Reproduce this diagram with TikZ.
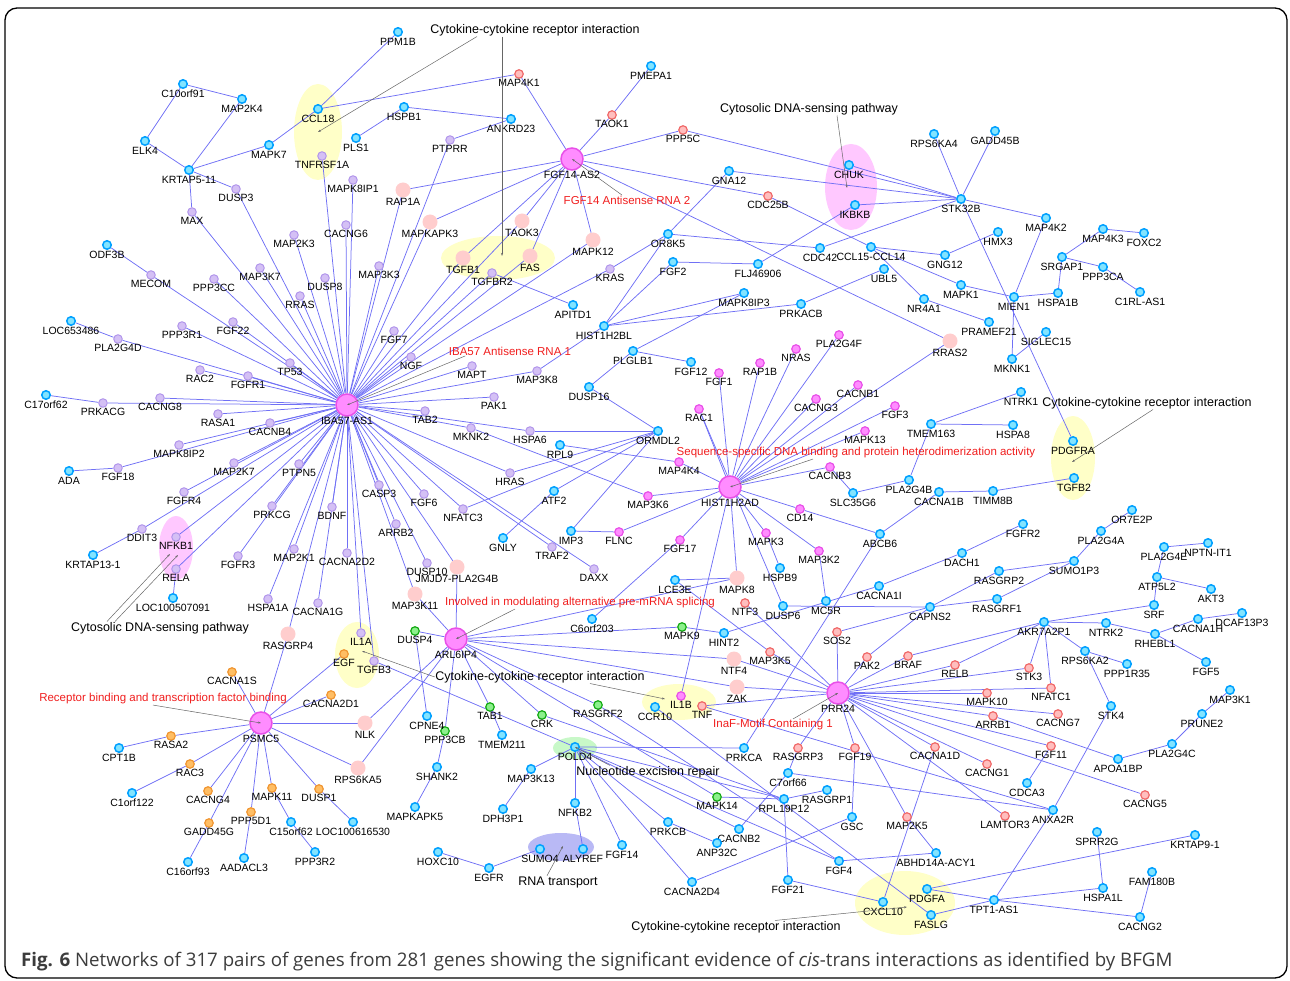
\documentclass[tikz,border=0pt]{standalone}
\usepackage{fontspec}
\setmainfont{Liberation Sans}
\newfontfamily\capfont{Open Sans}
\usetikzlibrary{arrows.meta,backgrounds}
\definecolor{linkBlue}{RGB}{112,112,245}
\definecolor{cyFill}{RGB}{130,228,255}
\definecolor{cyLine}{RGB}{0,160,255}
\definecolor{puFill}{RGB}{212,192,245}
\definecolor{puLine}{RGB}{178,150,235}
\definecolor{pkFill}{RGB}{255,205,205}
\definecolor{rdFill}{RGB}{255,190,190}
\definecolor{rdLine}{RGB}{240,105,105}
\definecolor{mgFill}{RGB}{255,140,255}
\definecolor{mgLine}{RGB}{232,80,232}
\definecolor{grFill}{RGB}{140,240,140}
\definecolor{grLine}{RGB}{20,170,20}
\definecolor{ogFill}{RGB}{255,190,100}
\definecolor{ogLine}{RGB}{240,150,50}
\definecolor{hlYellow}{RGB}{255,255,200}
\definecolor{hlPink}{RGB}{255,200,255}
\definecolor{hlGreen}{RGB}{200,248,200}
\definecolor{hlBlue}{RGB}{185,185,245}
\definecolor{noteRed}{RGB}{240,30,30}
\definecolor{capGray}{RGB}{60,60,60}

\begin{document}
\begin{tikzpicture}[
  x=1pt, y=-1pt,
  %% gene label under each circle
  lbl/.style={font=\fontsize{10.5}{11}\selectfont, inner sep=0.6pt},
  gnode/.style={circle, inner sep=0pt, minimum size=8.5pt, line width=1.5pt,
    label distance=1.2pt, label={[lbl]below:#1}},
  cyg/.style={gnode=#1, fill=cyFill, draw=cyLine},
  pug/.style={gnode=#1, line width=1pt, fill=puFill, draw=puLine},
  pkg/.style={gnode=#1, minimum size=15pt, line width=0pt, fill=pkFill, draw=none},
  rdg/.style={gnode=#1, line width=1.2pt, fill=rdFill, draw=rdLine},
  mgg/.style={gnode=#1, line width=1.2pt, fill=mgFill, draw=mgLine},
  grg/.style={gnode=#1, line width=1.2pt, fill=grFill, draw=grLine},
  ogg/.style={gnode=#1, line width=1.2pt, fill=ogFill, draw=ogLine},
  hub/.style={gnode=#1, minimum size=22pt, fill=mgFill, draw=mgLine},
  link/.style={draw=linkBlue, line width=0.75pt},
  %% pathway / annotation texts
  annot/.style={font=\fontsize{12.5}{14}\selectfont, inner sep=0.5pt},
  redannot/.style={font=\fontsize{11.5}{13}\selectfont, text=noteRed, inner sep=0.5pt},
  note/.style={draw=gray!80!black, line width=0.5pt, -{Stealth[length=3pt,width=2pt]}}
]
\useasboundingbox (0,0) rectangle (1290,981);

%% ---- Highlight groups ----
\begin{scope}[on background layer]
\fill[hlYellow] (318,132) ellipse [x radius=24, y radius=48];
\fill[hlYellow] (498,258) ellipse [x radius=57, y radius=22];
\fill[hlPink]   (851,187) ellipse [x radius=26, y radius=43];
\fill[hlYellow] (1073,458) ellipse [x radius=22, y radius=42];
\fill[hlPink]   (176,548) ellipse [x radius=17, y radius=32];
\fill[hlYellow] (357,655) ellipse [x radius=22, y radius=33];
\fill[hlYellow] (679,702) ellipse [x radius=37, y radius=18];
\fill[hlGreen]  (575,748) ellipse [x radius=22, y radius=11];
\fill[hlBlue]   (561,847) ellipse [x radius=33, y radius=14];
\fill[hlYellow] (905,903) ellipse [x radius=50, y radius=32];
\end{scope}
\coordinate (ccl18Grp) at (318,132);
\coordinate (tgfGrp)   at (502,256);
\coordinate (chukGrp)  at (847,188);
\coordinate (pdgfGrp)  at (1072,462);
\coordinate (nfkbA)    at (170,554);
\coordinate (nfkbB)    at (178,555);
\coordinate (il1aGrp)  at (362,651);
\coordinate (il1bGrp)  at (665,699);
\coordinate (sumoGrp)  at (563,846);
\coordinate (cxclGrp)  at (907,907);

%% ---- Hubs ----
\node[hub=FGF14-AS2] (FGF14-AS2) at (572,159) {};
\node[hub=IBA57-AS1] (IBA57-AS1) at (347,405) {};
\node[hub=HIST1H2AD] (HIST1H2AD) at (730,487) {};
\node[hub=ARL6IP4]   (ARL6IP4)   at (456,639) {};
\node[hub=PRR24]     (PRR24)     at (838,693) {};
\node[hub=PSMC5]     (PSMC5)     at (261,723) {};

%% ---- Shared partners ----
\node[pkg=RAP1A]         (RAP1A)         at (403,190) {};
\node[pkg=MAPKAPK3]      (MAPKAPK3)      at (430,222) {};
\node[pkg=TAOK3]         (TAOK3)         at (522,221) {};
\node[pkg=MAPK12]        (MAPK12)        at (593,240) {};
\node[pkg=TGFB1]         (TGFB1)         at (463,258) {};
\node[pkg=FAS]           (FAS)           at (530,256) {};
\node[pkg=RRAS2]         (RRAS2)         at (950,341) {};
\node[pkg=RASGRP4]       (RASGRP4)       at (288,634) {};
\node[pkg=JMJD7-PLA2G4B] (JMJD7-PLA2G4B) at (457,567) {};
\node[pkg=MAP3K11]       (MAP3K11)       at (415,594) {};
\node[pkg=MAPK8]         (MAPK8)         at (737,578) {};
\node[pkg=NTF4]          (NTF4)          at (734,659) {};
\node[pkg=ZAK]           (ZAK)           at (737,687) {};
\node[pkg=NLK]           (NLK)           at (365,723) {};
\node[pkg=RPS6KA5]       (RPS6KA5)       at (358,768) {};

%% ---- IBA57-AS1 partners ----
\node[pug=TNFRSF1A] (TNFRSF1A) at (322,156) {};
\node[pug=DUSP3]    (DUSP3)    at (236,189) {};
\node[pug=MAX]      (MAX)      at (192,212) {};
\node[pug=MAP2K3]   (MAP2K3)   at (294,235) {};
\node[pug=MECOM]    (MECOM)    at (151,275) {};
\node[pug=PPP3CC]   (PPP3CC)   at (214,279) {};
\node[pug=MAP3K7]   (MAP3K7)   at (260,268) {};
\node[pug=RRAS]     (RRAS)     at (300,296) {};
\node[pug=DUSP8]    (DUSP8)    at (325,278) {};
\node[pug=PPP3R1]   (PPP3R1)   at (182,326) {};
\node[pug=FGF22]    (FGF22)    at (233,322) {};
\node[pug=PTPRR]    (PTPRR)    at (450,140) {};
\node[pug=MAPK8IP1] (MAPK8IP1) at (353,180) {};
\node[pug=CACNG6]   (CACNG6)   at (346,225) {};
\node[pug=TGFBR2]   (TGFBR2)   at (492,273) {};
\node[pug=MAP3K3]   (MAP3K3)   at (379,266) {};
\node[pug=KRAS]     (KRAS)     at (610,269) {};
\node[pug=FGF7]     (FGF7)     at (394,331) {};
\node[pug=PLA2G4D]  (PLA2G4D)  at (118,339) {};
\node[pug=RAC2]     (RAC2)     at (200,370) {};
\node[pug=FGFR1]    (FGFR1)    at (248,376) {};
\node[pug=TP53]     (TP53)     at (290,363) {};
\node[pug=PRKACG]   (PRKACG)   at (103,403) {};
\node[pug=CACNG8]   (CACNG8)   at (160,398) {};
\node[pug=RASA1]    (RASA1)    at (218,414) {};
\node[pug=CACNB4]   (CACNB4)   at (270,423) {};
\node[pug=MAPK8IP2] (MAPK8IP2) at (179,445) {};
\node[pug=FGF18]    (FGF18)    at (118,468) {};
\node[pug=MAP2K7]   (MAP2K7)   at (234,463) {};
\node[pug=PTPN5]    (PTPN5)    at (299,464) {};
\node[pug=FGFR4]    (FGFR4)    at (184,492) {};
\node[pug=PRKCG]    (PRKCG)    at (272,506) {};
\node[pug=BDNF]     (BDNF)     at (332,507) {};
\node[pug=DDIT3]    (DDIT3)    at (142,529) {};
\node[pug=NFKB1]    (NFKB1)    at (176,537) {};
\node[pug=MAP2K1]   (MAP2K1)   at (294,549) {};
\node[pug=FGFR3]    (FGFR3)    at (238,556) {};
\node[pug=RELA]     (RELA)     at (176,569) {};
\node[pug=HSPA1A]   (HSPA1A)   at (268,599) {};
\node[pug=CACNA1G]  (CACNA1G)  at (318,603) {};
\node[pug=NGF]      (NGF)      at (411,357) {};
\node[pug=MAPT]     (MAPT)     at (472,366) {};
\node[pug=MAP3K8]   (MAP3K8)   at (537,371) {};
\node[pug=PAK1]     (PAK1)     at (494,397) {};
\node[pug=TAB2]     (TAB2)     at (425,411) {};
\node[pug=MKNK2]    (MKNK2)    at (471,428) {};
\node[pug=HSPA6]    (HSPA6)    at (530,431) {};
\node[pug=HRAS]     (HRAS)     at (510,473) {};
\node[pug=CASP3]    (CASP3)    at (379,485) {};
\node[pug=FGF6]     (FGF6)     at (424,494) {};
\node[pug=NFATC3]   (NFATC3)   at (463,509) {};
\node[pug=ARRB2]    (ARRB2)    at (396,524) {};
\node[pug=CACNA2D2] (CACNA2D2) at (347,553) {};
\node[pug=TRAF2]    (TRAF2)    at (552,547) {};
\node[pug=DUSP10]   (DUSP10)   at (427,563) {};
\node[pug=DAXX]     (DAXX)     at (594,569) {};
\node[pug=IL1A]     (IL1A)     at (361,633) {};
\node[pug=TGFB3]    (TGFB3)    at (374,661) {};

%% ---- FGF14-AS2 and PRR24 partners ----
\node[rdg=MAP4K1]  (MAP4K1)  at (519,74) {};
\node[rdg=TAOK1]   (TAOK1)   at (612,115) {};
\node[rdg=PPP5C]   (PPP5C)   at (683,130) {};
\node[rdg=CDC25B]  (CDC25B)  at (768,196) {};
\node[rdg=NTF3]    (NTF3)    at (745,603) {};
\node[rdg=SOS2]    (SOS2)    at (837,632) {};
\node[rdg=MAP3K5]  (MAP3K5)  at (770,652) {};
\node[rdg=PAK2]    (PAK2)    at (867,657) {};
\node[rdg=BRAF]    (BRAF)    at (908,656) {};
\node[rdg=RELB]    (RELB)    at (955,665) {};
\node[rdg=STK3]    (STK3)    at (1029,668) {};
\node[rdg=NFATC1]  (NFATC1)  at (1051,688) {};
\node[rdg=MAPK10]  (MAPK10)  at (987,693) {};
\node[rdg=CACNG7]  (CACNG7)  at (1058,714) {};
\node[rdg=ARRB1]   (ARRB1)   at (993,716) {};
\node[rdg=FGF11]   (FGF11)   at (1051,746) {};
\node[rdg=CACNG1]  (CACNG1)  at (987,764) {};
\node[rdg=CACNG5]  (CACNG5)  at (1145,795) {};
\node[rdg=LAMTOR3] (LAMTOR3) at (1005,816) {};
\node[rdg=TNF]     (TNF)     at (702,706) {};
\node[rdg=RASGRP3] (RASGRP3) at (798,748) {};
\node[rdg=FGF19]   (FGF19)   at (855,748) {};
\node[rdg=CACNA1D] (CACNA1D) at (935,747) {};
\node[rdg=MAP2K5]  (MAP2K5)  at (907,817) {};

%% ---- HIST1H2AD partners ----
\node[mgg=PLA2G4F] (PLA2G4F) at (839,335) {};
\node[mgg=NRAS]    (NRAS)    at (796,349) {};
\node[mgg=RAP1B]   (RAP1B)   at (760,363) {};
\node[mgg=FGF1]    (FGF1)    at (719,373) {};
\node[mgg=CACNB1]  (CACNB1)  at (858,385) {};
\node[mgg=CACNG3]  (CACNG3)  at (816,399) {};
\node[mgg=FGF3]    (FGF3)    at (895,406) {};
\node[mgg=RAC1]    (RAC1)    at (699,409) {};
\node[mgg=MAPK13]  (MAPK13)  at (865,431) {};
\node[mgg=MAP4K4]  (MAP4K4)  at (679,462) {};
\node[mgg=CACNB3]  (CACNB3)  at (830,467) {};
\node[mgg=MAP3K6]  (MAP3K6)  at (648,496) {};
\node[mgg=CD14]    (CD14)    at (800,509) {};
\node[mgg=FGF17]   (FGF17)   at (680,540) {};
\node[mgg=MAPK3]   (MAPK3)   at (766,533) {};
\node[mgg=MAP3K2]  (MAP3K2)  at (819,551) {};
\node[mgg=FLNC]    (FLNC)    at (619,532) {};
\node[mgg=IL1B]    (IL1B)    at (681,696) {};

%% ---- ARL6IP4 partners ----
\node[grg=DUSP4]   (DUSP4)   at (415,631) {};
\node[grg=MAPK9]   (MAPK9)   at (682,627) {};
\node[grg=TAB1]    (TAB1)    at (490,707) {};
\node[grg=CRK]     (CRK)     at (542,715) {};
\node[grg=RASGRF2] (RASGRF2) at (598,705) {};
\node[grg=PPP3CB]  (PPP3CB)  at (445,731) {};
\node[grg=MAPK14]  (MAPK14)  at (717,797) {};

%% ---- PSMC5 partners ----
\node[ogg=EGF]      (EGF)      at (344,654) {};
\node[ogg=CACNA1S]  (CACNA1S)  at (232,672) {};
\node[ogg=CACNA2D1] (CACNA2D1) at (331,695) {};
\node[ogg=RASA2]    (RASA2)    at (171,736) {};
\node[ogg=RAC3]     (RAC3)     at (190,764) {};
\node[ogg=CACNG4]   (CACNG4)   at (208,791) {};
\node[ogg=MAPK11]   (MAPK11)   at (272,788) {};
\node[ogg=DUSP1]    (DUSP1)    at (319,789) {};
\node[ogg=PPP5D1]   (PPP5D1)   at (251,812) {};
\node[ogg=GADD45G]  (GADD45G)  at (209,823) {};

%% ---- Other genes ----
\node[cyg=C10orf91]     (C10orf91)     at (183,84) {};
\node[cyg=MAP2K4]       (MAP2K4)       at (242,99) {};
\node[cyg=ELK4]         (ELK4)         at (145,141) {};
\node[cyg=KRTAP5-11]    (KRTAP5-11)    at (189,170) {};
\node[cyg=MAPK7]        (MAPK7)        at (269,145) {};
\node[cyg=CCL18]        (CCL18)        at (318,109) {};
\node[cyg=ODF3B]        (ODF3B)        at (107,245) {};
\node[cyg=LOC653486]    (LOC653486)    at (71,321) {};
\node[cyg=C17orf62]     (C17orf62)     at (46,395) {};
\node[cyg=ADA]          (ADA)          at (69,471) {};
\node[cyg=KRTAP13-1]    (KRTAP13-1)    at (93,555) {};
\node[cyg=LOC100507091] (LOC100507091) at (173,598) {};
\node[cyg=PPM1B]        (PPM1B)        at (398,32) {};
\node[cyg=HSPB1]        (HSPB1)        at (404,107) {};
\node[cyg=ANKRD23]      (ANKRD23)      at (511,119) {};
\node[cyg=PLS1]         (PLS1)         at (356,138) {};
\node[cyg=PMEPA1]       (PMEPA1)       at (651,66) {};
\node[cyg=APITD1]       (APITD1)       at (573,305) {};
\node[cyg=HIST1H2BL]    (HIST1H2BL)    at (604,326) {};
\node[cyg=RPS6KA4]      (RPS6KA4)      at (934,134) {};
\node[cyg=CHUK]         (CHUK)         at (849,165) {};
\node[cyg=GNA12]        (GNA12)        at (729,171) {};
\node[cyg=IKBKB]        (IKBKB)        at (855,205) {};
\node[cyg=STK32B]       (STK32B)       at (961,199) {};
\node[cyg=OR8K5]        (OR8K5)        at (668,234) {};
\node[cyg=CDC42]        (CDC42)        at (820,248) {};
\node[cyg=CCL15-CCL14]  (CCL15-CCL14)  at (871,247) {};
\node[cyg=GNG12]        (GNG12)        at (945,255) {};
\node[cyg=FGF2]         (FGF2)         at (673,262) {};
\node[cyg=FLJ46906]     (FLJ46906)     at (758,264) {};
\node[cyg=UBL5]         (UBL5)         at (884,269) {};
\node[cyg=MAPK1]        (MAPK1)        at (961,285) {};
\node[cyg=MAPK8IP3]     (MAPK8IP3)     at (744,293) {};
\node[cyg=PRKACB]       (PRKACB)       at (801,304) {};
\node[cyg=NR4A1]        (NR4A1)        at (924,299) {};
\node[cyg=GADD45B]      (GADD45B)      at (995,131) {};
\node[cyg=MAP4K2]       (MAP4K2)       at (1046,218) {};
\node[cyg=HMX3]         (HMX3)         at (998,232) {};
\node[cyg=MAP4K3]       (MAP4K3)       at (1103,229) {};
\node[cyg=FOXC2]        (FOXC2)        at (1144,233) {};
\node[cyg=SRGAP1]       (SRGAP1)       at (1062,257) {};
\node[cyg=PPP3CA]       (PPP3CA)       at (1103,267) {};
\node[cyg=MIEN1]        (MIEN1)        at (1014,297) {};
\node[cyg=HSPA1B]       (HSPA1B)       at (1058,293) {};
\node[cyg=C1RL-AS1]     (C1RL-AS1)     at (1140,292) {};
\node[cyg=PRAMEF21]     (PRAMEF21)     at (989,322) {};
\node[cyg=SIGLEC15]     (SIGLEC15)     at (1046,332) {};
\node[cyg=MKNK1]        (MKNK1)        at (1012,359) {};
\node[cyg=NTRK1]        (NTRK1)        at (1021,392) {};
\node[cyg=HSPA8]        (HSPA8)        at (1013,425) {};
\node[cyg=PDGFRA]       (PDGFRA)       at (1073,441) {};
\node[cyg=TGFB2]        (TGFB2)        at (1074,478) {};
\node[cyg=TIMM8B]       (TIMM8B)       at (993,491) {};
\node[cyg=OR7E2P]       (OR7E2P)       at (1132,510) {};
\node[cyg=FGFR2]        (FGFR2)        at (1023,524) {};
\node[cyg=PLA2G4A]      (PLA2G4A)      at (1101,531) {};
\node[cyg=PLA2G4E]      (PLA2G4E)      at (1164,547) {};
\node[cyg=NPTN-IT1]     (NPTN-IT1)     at (1208,543) {};
\node[cyg=SUMO1P3]      (SUMO1P3)      at (1074,561) {};
\node[cyg=DACH1]        (DACH1)        at (962,553) {};
\node[cyg=RASGRP2]      (RASGRP2)      at (999,571) {};
\node[cyg=ATP5L2]       (ATP5L2)       at (1157,577) {};
\node[cyg=AKT3]         (AKT3)         at (1211,589) {};
\node[cyg=RASGRF1]      (RASGRF1)      at (997,599) {};
\node[cyg=SRF]          (SRF)          at (1154,605) {};
\node[cyg=DCAF13P3]     (DCAF13P3)     at (1242,613) {};
\node[cyg=CACNA1H]      (CACNA1H)      at (1198,619) {};
\node[cyg=AKR7A2P1]     (AKR7A2P1)     at (1044,622) {};
\node[cyg=NTRK2]        (NTRK2)        at (1106,623) {};
\node[cyg=RHEBL1]       (RHEBL1)       at (1155,634) {};
\node[cyg=RPS6KA2]      (RPS6KA2)      at (1085,651) {};
\node[cyg=PPP1R35]      (PPP1R35)      at (1127,664) {};
\node[cyg=FGF5]         (FGF5)         at (1206,662) {};
\node[cyg=MAP3K1]       (MAP3K1)       at (1230,690) {};
\node[cyg=STK4]         (STK4)         at (1111,706) {};
\node[cyg=PRUNE2]       (PRUNE2)       at (1202,714) {};
\node[cyg=PLA2G4C]      (PLA2G4C)      at (1172,744) {};
\node[cyg=APOA1BP]      (APOA1BP)      at (1118,759) {};
\node[cyg=CDCA3]        (CDCA3)        at (1027,783) {};
\node[cyg=ANXA2R]       (ANXA2R)       at (1053,810) {};
\node[cyg=SPRR2G]       (SPRR2G)       at (1097,832) {};
\node[cyg=KRTAP9-1]     (KRTAP9-1)     at (1195,835) {};
\node[cyg=FAM180B]      (FAM180B)      at (1152,872) {};
\node[cyg=HSPA1L]       (HSPA1L)       at (1103,888) {};
\node[cyg=TPT1-AS1]     (TPT1-AS1)     at (994,900) {};
\node[cyg=CACNG2]       (CACNG2)       at (1140,917) {};
\node[cyg=PLGLB1]       (PLGLB1)       at (633,351) {};
\node[cyg=DUSP16]       (DUSP16)       at (589,387) {};
\node[cyg=FGF12]        (FGF12)        at (691,362) {};
\node[cyg=ORMDL2]       (ORMDL2)       at (658,431) {};
\node[cyg=RPL9]         (RPL9)         at (560,445) {};
\node[cyg=ATF2]         (ATF2)         at (554,491) {};
\node[cyg=GNLY]         (GNLY)         at (503,538) {};
\node[cyg=IMP3]         (IMP3)         at (571,531) {};
\node[cyg=C6orf203]     (C6orf203)     at (592,619) {};
\node[cyg=TMEM163]      (TMEM163)      at (931,424) {};
\node[cyg=SLC35G6]      (SLC35G6)      at (853,493) {};
\node[cyg=PLA2G4B]      (PLA2G4B)      at (909,480) {};
\node[cyg=CACNA1B]      (CACNA1B)      at (939,492) {};
\node[cyg=ABCB6]        (ABCB6)        at (880,534) {};
\node[cyg=HSPB9]        (HSPB9)        at (780,568) {};
\node[cyg=LCE3E]        (LCE3E)        at (675,580) {};
\node[cyg=CACNA1I]      (CACNA1I)      at (879,586) {};
\node[cyg=DUSP6]        (DUSP6)        at (783,606) {};
\node[cyg=MC5R]         (MC5R)         at (826,601) {};
\node[cyg=CAPNS2]       (CAPNS2)       at (930,607) {};
\node[cyg=HINT2]        (HINT2)        at (724,633) {};
\node[cyg=CCR10]        (CCR10)        at (655,707) {};
\node[cyg=PRKCA]        (PRKCA)        at (744,748) {};
\node[cyg=C7orf66]      (C7orf66)      at (788,773) {};
\node[cyg=RPL19P12]     (RPL19P12)     at (784,799) {};
\node[cyg=RASGRP1]      (RASGRP1)      at (827,790) {};
\node[cyg=GSC]          (GSC)          at (852,817) {};
\node[cyg=PRKCB]        (PRKCB)        at (668,822) {};
\node[cyg=CACNB2]       (CACNB2)       at (739,829) {};
\node[cyg=ANP32C]       (ANP32C)       at (717,843) {};
\node[cyg=ABHD14A-ACY1] (ABHD14A-ACY1) at (936,853) {};
\node[cyg=FGF4]         (FGF4)         at (839,861) {};
\node[cyg=CACNA2D4]     (CACNA2D4)     at (692,882) {};
\node[cyg=FGF21]        (FGF21)        at (788,880) {};
\node[cyg=PDGFA]        (PDGFA)        at (927,889) {};
\node[cyg=CXCL10]       (CXCL10)       at (883,902) {};
\node[cyg=FASLG]        (FASLG)        at (931,915) {};
\node[cyg=CPNE4]        (CPNE4)        at (427,716) {};
\node[cyg=TMEM211]      (TMEM211)      at (502,735) {};
\node[cyg=POLD4]        (POLD4)        at (575,747) {};
\node[cyg=SHANK2]       (SHANK2)       at (437,767) {};
\node[cyg=MAP3K13]      (MAP3K13)      at (531,769) {};
\node[cyg=NFKB2]        (NFKB2)        at (575,803) {};
\node[cyg=LOC100616530] (LOC100616530) at (353,822) {};
\node[cyg=MAPKAPK5]     (MAPKAPK5)     at (415,807) {};
\node[cyg=DPH3P1]       (DPH3P1)       at (503,809) {};
\node[cyg=FGF14]        (FGF14)        at (622,845) {};
\node[cyg=HOXC10]       (HOXC10)       at (438,852) {};
\node[cyg=SUMO4]        (SUMO4)        at (540,849) {};
\node[cyg=ALYREF]       (ALYREF)       at (583,849) {};
\node[cyg=EGFR]         (EGFR)         at (489,868) {};
\node[cyg=CPT1B]        (CPT1B)        at (119,748) {};
\node[cyg=C1orf122]     (C1orf122)     at (132,793) {};
\node[cyg=C15orf62]     (C15orf62)     at (291,822) {};
\node[cyg=C16orf93]     (C16orf93)     at (188,862) {};
\node[cyg=AADACL3]      (AADACL3)      at (244,858) {};
\node[cyg=PPP3R2]       (PPP3R2)       at (315,852) {};

%% ---- Hub links ----
\begin{scope}[on background layer]
\path[link] (IBA57-AS1) edge (TNFRSF1A) edge (MAPK8IP1) edge (CACNG6) edge (DUSP3)
  edge (MAX) edge (MAP2K3) edge (MECOM) edge (PPP3CC) edge (MAP3K7) edge (RRAS)
  edge (DUSP8) edge (PPP3R1) edge (FGF22) edge (MAP3K3) edge (FGF7) edge (NGF)
  edge (MAPT) edge (MAP3K8) edge (PAK1) edge (TAB2) edge (MKNK2) edge (HSPA6)
  edge (HRAS) edge (CASP3) edge (FGF6) edge (NFATC3) edge (ARRB2) edge (DUSP10)
  edge (TRAF2) edge (DAXX) edge (CACNA2D2) edge (BDNF) edge (MAP2K1) edge (CACNA1G)
  edge (HSPA1A) edge (PRKCG) edge (FGFR3) edge (PTPN5) edge (MAP2K7) edge (FGFR4)
  edge (DDIT3) edge (NFKB1) edge (RELA) edge (MAPK8IP2) edge (FGF18) edge (CACNB4)
  edge (RASA1) edge (CACNG8) edge (PRKACG) edge (RAC2) edge (FGFR1) edge (TP53)
  edge (PLA2G4D) edge (TGFBR2) edge (PTPRR) edge (KRAS) edge (IL1A) edge (TGFB3)
  edge (RAP1A) edge (MAPKAPK3) edge (TAOK3) edge (TGFB1) edge (FAS) edge (MAPK12)
  edge (RASGRP4) edge (MAP3K11) edge (JMJD7-PLA2G4B);
\path[link] (FGF14-AS2) edge (MAP4K1) edge (TAOK1) edge (PPP5C) edge (CDC25B)
  edge (RRAS2) edge (RAP1A) edge (MAPKAPK3) edge (TAOK3) edge (TGFB1) edge (FAS)
  edge (MAPK12);
\path[link] (HIST1H2AD) edge (PLA2G4F) edge (NRAS) edge (RAP1B) edge (FGF1)
  edge (CACNB1) edge (CACNG3) edge (FGF3) edge (MAPK13) edge (RAC1) edge (MAP4K4)
  edge (CACNB3) edge (MAP3K6) edge (CD14) edge (FGF17) edge (MAPK3) edge (MAP3K2)
  edge (FLNC) edge (IL1B) edge (RRAS2) edge (MAPK8);
\path[link] (ARL6IP4) edge (DUSP4) edge (TAB1) edge (CRK) edge (RASGRF2) edge (MAPK9)
  edge (MAPK14) edge (PPP3CB) edge (MAP3K11) edge (JMJD7-PLA2G4B) edge (NLK)
  edge (RPS6KA5) edge (MAPK8) edge (NTF4) edge (ZAK);
\path[link] (PRR24) edge (SOS2) edge (PAK2) edge (BRAF) edge (RELB) edge (STK3)
  edge (NFATC1) edge (MAPK10) edge (CACNG7) edge (ARRB1) edge (FGF11) edge (CACNG1)
  edge (CACNG5) edge (LAMTOR3) edge (CACNA1D) edge (MAP2K5) edge (FGF19)
  edge (RASGRP3) edge (TNF) edge (MAP3K5) edge (NTF3) edge (NTF4) edge (ZAK);
\path[link] (PSMC5) edge (CACNA1S) edge (CACNA2D1) edge (RASA2) edge (RAC3)
  edge (CACNG4) edge (GADD45G) edge (PPP5D1) edge (MAPK11) edge (DUSP1) edge (EGF)
  edge (RASGRP4) edge (NLK) edge (RPS6KA5);

%% ---- Gene--gene links ----
\path[link] (C10orf91) edge (MAP2K4) edge (ELK4)
  (KRTAP5-11) edge (ELK4) edge (MAP2K4) edge (MAPK7) edge (DUSP3) edge (MAX)
  (CCL18) edge (MAPK7) edge (PPM1B) edge (MAP4K1)
  (HSPB1) edge (PLS1) edge (ANKRD23)
  (ANKRD23) edge (PTPRR)
  (ODF3B) edge (MECOM)
  (LOC653486) edge (PLA2G4D)
  (C17orf62) edge (PRKACG)
  (ADA) edge (FGF18)
  (KRTAP13-1) edge (DDIT3)
  (LOC100507091) edge (RELA);
\path[link] (TAOK1) edge (PMEPA1)
  (STK32B) edge (PPP5C) edge (GNA12) edge (CHUK) edge (IKBKB) edge (CDC42)
    edge (RPS6KA4) edge (GADD45B) edge (MAP4K2) edge (PDGFRA)
  (CDC25B) edge (CCL15-CCL14)
  (OR8K5) edge (GNA12) edge (CDC42) edge (HIST1H2BL) edge (KRAS)
  (FLJ46906) edge (IKBKB) edge (FGF2)
  (FGF2) edge (HIST1H2BL)
  (CCL15-CCL14) edge (GNG12) edge (NR4A1) edge (MAPK1)
  (GNG12) edge (HMX3)
  (PRKACB) edge (UBL5) edge (HIST1H2BL)
  (MAPK8IP3) edge (HIST1H2BL) edge (PLGLB1)
  (NR4A1) edge (PRAMEF21)
  (MIEN1) edge (MAP4K2) edge (MAPK1) edge (HSPA1B) edge (MKNK1)
  (MKNK1) edge (SIGLEC15)
  (SRGAP1) edge (HSPA1B) edge (MAP4K3) edge (PPP3CA)
  (MAP4K3) edge (FOXC2)
  (PPP3CA) edge (C1RL-AS1);
\path[link] (TGFBR2) edge (APITD1)
  (MAP3K8) edge (HIST1H2BL)
  (PLGLB1) edge (DUSP16) edge (FGF12)
  (ORMDL2) edge (DUSP16) edge (HSPA6) edge (HRAS) edge (NFATC3) edge (ATF2) edge (IMP3)
  (ATF2) edge (GNLY)
  (IMP3) edge (FLNC)
  (RPL9) edge (MAP4K4)
  (MKNK2) edge (MAP3K6)
  (FGF17) edge (C6orf203)
  (RAC1) edge (DUSP6);
\path[link] (TMEM163) edge (NTRK1) edge (HSPA8) edge (PLA2G4B)
  (SLC35G6) edge (PLA2G4B) edge (CACNB3)
  (CACNA1B) edge (TIMM8B) edge (ABCB6)
  (TIMM8B) edge (TGFB2)
  (ABCB6) edge (CD14) edge (PRKCA)
  (MAPK3) edge (HSPB9)
  (MAP3K2) edge (MC5R)
  (CAPNS2) edge (DUSP6) edge (RASGRP2) edge (RASGRF1) edge (SOS2) edge (PAK2)
  (CACNA1I) edge (HINT2) edge (DACH1)
  (MAPK9) edge (HINT2)
  (DACH1) edge (FGFR2)
  (SUMO1P3) edge (RASGRP2) edge (RASGRF1) edge (PLA2G4A)
  (PLA2G4A) edge (OR7E2P);
\path[link] (AKR7A2P1) edge (SRF) edge (NTRK2) edge (RPS6KA2) edge (STK3)
    edge (NFATC1) edge (BRAF) edge (RELB)
  (RHEBL1) edge (NTRK2) edge (CACNA1H) edge (FGF5)
  (CACNA1H) edge (DCAF13P3)
  (ATP5L2) edge (SRF) edge (PLA2G4E) edge (AKT3)
  (PLA2G4E) edge (NPTN-IT1)
  (RPS6KA2) edge (PPP1R35) edge (STK4)
  (ANXA2R) edge (STK4) edge (TPT1-AS1) edge (TNF) edge (C7orf66)
  (TPT1-AS1) edge (HSPA1L) edge (CACNG2) edge (PDGFA) edge (FASLG)
  (PDGFA) edge (KRTAP9-1)
  (HSPA1L) edge (SPRR2G)
  (CACNG2) edge (FAM180B)
  (PRUNE2) edge (MAP3K1) edge (PLA2G4C)
  (APOA1BP) edge (PLA2G4C) edge (ARRB1)
  (FGF11) edge (CDCA3);
\path[link] (LCE3E) edge (MAP3K5) edge (MAPK8)
  (POLD4) edge (PRKCA) edge (RPL19P12) edge (CACNB2) edge (PRKCB) edge (CACNA2D4)
    edge (FGF4) edge (FGF14) edge (NFKB2) edge (MAP3K13) edge (TGFB3)
  (MAP3K13) edge (DPH3P1)
  (NFKB2) edge (ALYREF)
  (EGFR) edge (SUMO4) edge (HOXC10)
  (PRKCB) edge (ANP32C)
  (GSC) edge (CACNA2D4) edge (FGF19)
  (ABHD14A-ACY1) edge (FGF4) edge (MAP2K5)
  (CXCL10) edge (FGF21) edge (CACNA1D)
  (RPL19P12) edge (MAPK14) edge (RASGRP1) edge (FGF21) edge (CRK)
  (C7orf66) edge (RASGRP3) edge (CACNB2)
  (CCR10) edge (FASLG)
  (RASGRF2) edge (FGF4)
  (TAB1) edge (TMEM211)
  (SHANK2) edge (PPP3CB) edge (MAPKAPK5)
  (DUSP4) edge (CPNE4);
\path[link] (RASA2) edge (CPT1B)
  (RAC3) edge (C1orf122)
  (GADD45G) edge (C16orf93)
  (PPP5D1) edge (AADACL3)
  (C15orf62) edge (MAPK11) edge (PPP3R2)
  (DUSP1) edge (LOC100616530);
\end{scope}

%% ---- Pathway notes ----
\node[annot] (cytoTop) at (535,30) {Cytokine-cytokine receptor interaction};
\node[redannot] (fgfNote) at (627,200) {FGF14 Antisense RNA 2};
\node[annot] (dnaTop) at (809,109) {Cytosolic DNA-sensing pathway};
\node[redannot] (ibaNote) at (510,351) {IBA57 Antisense RNA 1};
\node[redannot] (seqNote) at (856,453)
  {Sequence-specific DNA binding and protein heterodimerization activity};
\node[annot] (cytoRight) at (1147,403) {Cytokine-cytokine receptor interaction};
\node[annot] (dnaLeft) at (160,628) {Cytosolic DNA-sensing pathway};
\node[redannot] (spliceNote) at (580,603)
  {Involved in modulating alternative pre-mRNA splicing};
\node[redannot] (recNote) at (163,699)
  {Receptor binding and transcription factor binding};
\node[annot] (cytoMid) at (540,677) {Cytokine-cytokine receptor interaction};
\node[redannot] (inafNote) at (773,725) {InaF-Motif Containing 1};
\node[annot] (nerNote) at (648,772) {Nucleotide excision repair};
\node[annot] (rnaNote) at (558,882) {RNA transport};
\node[annot] (cytoBottom) at (736,927) {Cytokine-cytokine receptor interaction};

\draw[note] ([xshift=-58pt]cytoTop.south) -- (ccl18Grp);
\draw[note] ([xshift=-33pt]cytoTop.south) -- (tgfGrp);
\draw[note] ([xshift=-5pt]fgfNote.north) -- (FGF14-AS2.center);
\draw[note] ([xshift=28pt]dnaTop.south) -- (chukGrp);
\draw[note] ([xshift=17pt]ibaNote.south west) -- (IBA57-AS1.center);
\draw[note] ([xshift=-43pt]seqNote.south) -- (HIST1H2AD.center);
\draw[note] ([xshift=6pt]cytoRight.south) -- (pdgfGrp);
\draw[note] ([xshift=-53pt]dnaLeft.north) -- (nfkbA);
\draw[note] ([xshift=-45pt]dnaLeft.north) -- (nfkbB);
\draw[note] ([xshift=-65pt]spliceNote.south) -- (ARL6IP4.center);
\draw[note] ([xshift=-10pt]recNote.south) -- (PSMC5.center);
\draw[note] (cytoMid.west) -- (il1aGrp);
\draw[note] ([xshift=50pt]cytoMid.south) -- (il1bGrp);
\draw[note] ([xshift=20pt]inafNote.north) -- (PRR24.center);
\draw[note] ([xshift=-38pt]nerNote.north) -- (POLD4.center);
\draw[note] ([xshift=-11pt]rnaNote.north) -- (sumoGrp);
\draw[note] ([xshift=39pt]cytoBottom.north) -- (cxclGrp);

%% ---- Frame and caption ----
\draw[line width=1.3pt, rounded corners=12pt] (5,8) rectangle (1287,978);
\node[anchor=west, inner sep=0pt, text=capGray, font=\capfont\fontsize{18.7}{22}\selectfont]
  (caption) at (21,962)
  {\textbf{Fig. 6} Networks of 317 pairs of genes from 281 genes showing the significant
   evidence of \textit{cis}-trans interactions as identified by BFGM};
\end{tikzpicture}
\end{document}
